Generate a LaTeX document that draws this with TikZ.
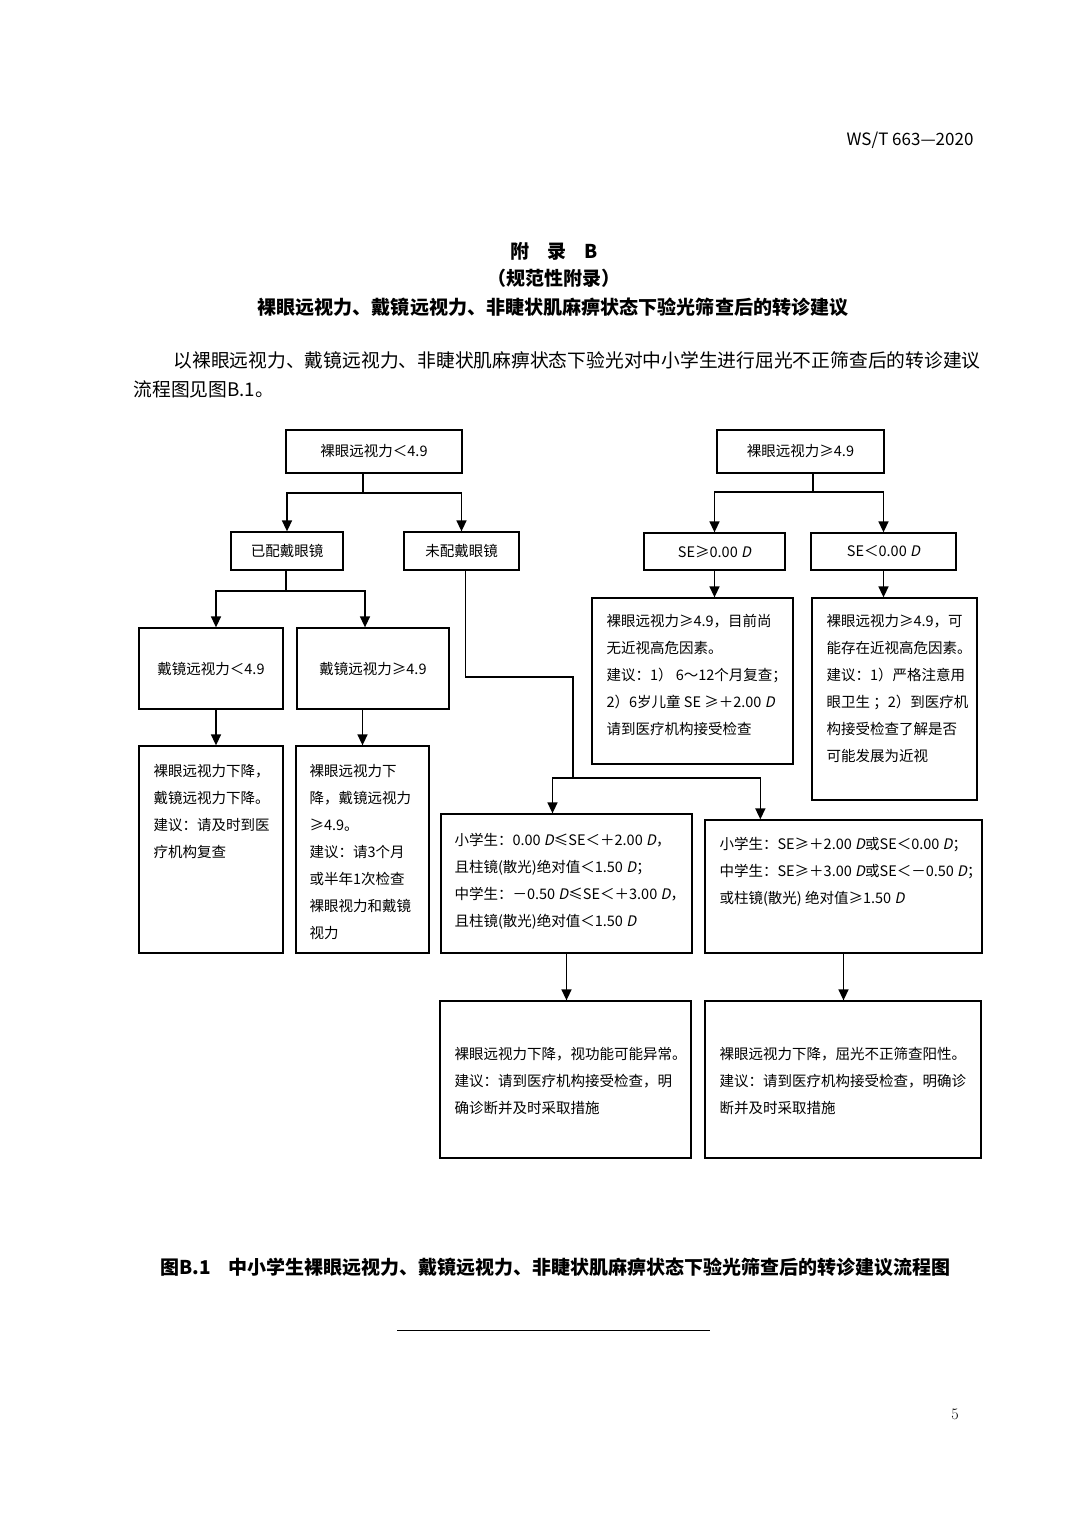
\documentclass[tikz,border=0pt]{standalone}
\usepackage{fontspec}
\usetikzlibrary{arrows.meta,calc}
\newfontfamily\cjk[ItalicFont={Noto Sans CJK SC},ItalicFeatures={FakeSlant=0.2}]{Noto Sans CJK SC}
\newcommand\bx{\cjk\fontsize{14.5}{27}\selectfont}
\newcommand\Di{\textit{D}}

\begin{document}
\begin{tikzpicture}[x=1pt,y=-1pt,
    box/.style={draw, line width=1.3pt, inner sep=0pt, font=\bx},
    txt/.style={font=\bx, align=left, inner sep=0pt, anchor=north west},
    lnk/.style={line width=1.5pt},
    arr/.style={line width=1.5pt, -{Triangle[length=11pt,width=10pt]}}]
        \fill[white] (0,0) rectangle (1080,1527);
        \useasboundingbox (0,0) rectangle (1080,1527);

        % page head and titles
        \node[anchor=east] (hdr) at (977,140) {\cjk\fontsize{17}{17}\selectfont WS/T 663—2020};
        \node (apx) at (554,251) {\cjk\bfseries\fontsize{19}{19}\selectfont 附\hspace{18pt}录\hspace{18pt}B};
        \node (nrm) at (554,278) {\cjk\bfseries\fontsize{19}{19}\selectfont （规范性附录）};
        \node (ttl) at (553,307) {\cjk\bfseries\fontsize{19.06}{19}\selectfont 裸眼远视力、戴镜远视力、非睫状肌麻痹状态下验光筛查后的转诊建议};
        \node[anchor=west] (par1) at (170,360) {\cjk\fontsize{18.77}{19}\selectfont 以裸眼远视力、戴镜远视力、非睫状肌麻痹状态下验光对中小学生进行屈光不正筛查后的转诊建议};
        \node[anchor=west] (par2) at (130,389) {\cjk\fontsize{18.77}{19}\selectfont 流程图见图B.1。};

        % one-line boxes
        \node[box, minimum width=176, minimum height=43] (A) at (374,451.5) {裸眼远视力＜4.9};
        \node[box, minimum width=167, minimum height=43] (B) at (800.5,451.5) {裸眼远视力≥4.9};
        \node[box, minimum width=112, minimum height=38] (C) at (287,551) {已配戴眼镜};
        \node[box, minimum width=115, minimum height=38] (D) at (461.5,551) {未配戴眼镜};
        \node[box, minimum width=141, minimum height=37] (G) at (714.5,551.5) {SE≥0.00 \Di{}};
        \node[box, minimum width=145, minimum height=37] (H) at (883.5,551.5) {SE＜0.00 \Di{}};
        \node[box, minimum width=144, minimum height=81] (E) at (211,668.5) {戴镜远视力＜4.9};
        \node[box, minimum width=152, minimum height=81] (F) at (373,668.5) {戴镜远视力≥4.9};

        % text boxes
        \foreach \n/\cx/\cy/\w/\h in {
            I/692.5/681/201/166, J/894.5/699/165/202,
            K/211/849.5/144/207, L/362.5/849.5/133/207,
            M/566.5/883.5/251/139, N/843.5/886.5/277/133,
            P/565.5/1079.5/251/157, Q/843/1079.5/276/157
        } {
            \node[box, minimum width=\w, minimum height=\h] (\n) at (\cx,\cy) {};
        }

        \node[txt] (Itx) at ([shift={(15,17)}]I.north west) {裸眼远视力≥4.9，目前尚\\无近视高危因素。\\建议：1） 6～12个月复查；\\2）6岁儿童 SE ≥＋2.00 \Di{}\\请到医疗机构接受检查};
        \node[txt] (Jtx) at ([shift={(15,17)}]J.north west) {裸眼远视力≥4.9，可\\能存在近视高危因素。\\建议：1）严格注意用\\眼卫生 ；2）到医疗机\\构接受检查了解是否\\可能发展为近视};
        \node[txt] (Ktx) at ([shift={(15,19)}]K.north west) {裸眼远视力下降，\\戴镜远视力下降。\\建议：请及时到医\\疗机构复查};
        \node[txt] (Ltx) at ([shift={(14,19)}]L.north west) {裸眼远视力下\\降，戴镜远视力\\≥4.9。\\建议：请3个月\\或半年1次检查\\裸眼视力和戴镜\\视力};
        \node[txt] (Mtx) at ([shift={(14,20)}]M.north west) {小学生：0.00 \Di{}≤SE＜＋2.00 \Di{}，\\且柱镜(散光)绝对值＜1.50 \Di{}；\\中学生：－0.50 \Di{}≤SE＜＋3.00 \Di{}，\\且柱镜(散光)绝对值＜1.50 \Di{}};
        \node[txt] (Ntx) at ([shift={(15,18)}]N.north west) {小学生：SE≥＋2.00 \Di{}或SE＜0.00 \Di{}；\\中学生：SE≥＋3.00 \Di{}或SE＜－0.50 \Di{}；\\或柱镜(散光) 绝对值≥1.50 \Di{}};
        \node[txt] (Ptx) at ([shift={(15,47)}]P.north west) {裸眼远视力下降，视功能可能异常。\\建议：请到医疗机构接受检查，明\\确诊断并及时采取措施};
        \node[txt] (Qtx) at ([shift={(15,47)}]Q.north west) {裸眼远视力下降，屈光不正筛查阳性。\\建议：请到医疗机构接受检查，明确诊\\断并及时采取措施};

        % junctions
        \coordinate (jA) at (363,493);
        \coordinate (jB) at (813,492);
        \coordinate (jC) at (286,591);
        \coordinate (dA) at (573,677);
        \coordinate (jD) at (573,778);

        % connectors
        \draw[lnk] (A.south -| jA) -- (jA);
        \draw[arr] (jA) -| (C.north);
        \draw[arr] (jA) -| (D.north);
        \draw[lnk] (C.south -| jC) -- (jC);
        \draw[arr] (jC) -| ([xshift=5]E.north);
        \draw[arr] (jC) -| ([xshift=-8]F.north);
        \draw[arr] ([xshift=5]E.south) -- ([xshift=5]K.north);
        \draw[arr] (F.south -| L.north) -- (L.north);
        \draw[lnk] (B.south -| jB) -- (jB);
        \draw[arr] (jB) -| (G.north);
        \draw[arr] (jB) -| (H.north);
        \draw[arr] (G.south) -- (G.south |- I.north);
        \draw[arr] (H.south) -- (H.south |- J.north);
        \draw[lnk] ([xshift=4]D.south) |- (dA) -- (jD);
        \draw[arr] (jD) -| ([xshift=-14]M.north);
        \draw[arr] (jD) -| ([xshift=56]N.north west);
        \draw[arr] (M.south) -- (M.south |- P.north);
        \draw[arr] (N.south) -- (N.south |- Q.north);

        % caption, rule and page number
        \node[anchor=west] (cap) at (157,1267) {\cjk\bfseries\fontsize{19}{19}\selectfont 图B.1\hspace{18pt}中小学生裸眼远视力、戴镜远视力、非睫状肌麻痹状态下验光筛查后的转诊建议流程图};
        \draw[line width=0.8pt] (397,1330) -- (710,1330);
        \node (pg) at (955,1414) {\fontsize{16}{16}\selectfont 5};
\end{tikzpicture}
\end{document}
